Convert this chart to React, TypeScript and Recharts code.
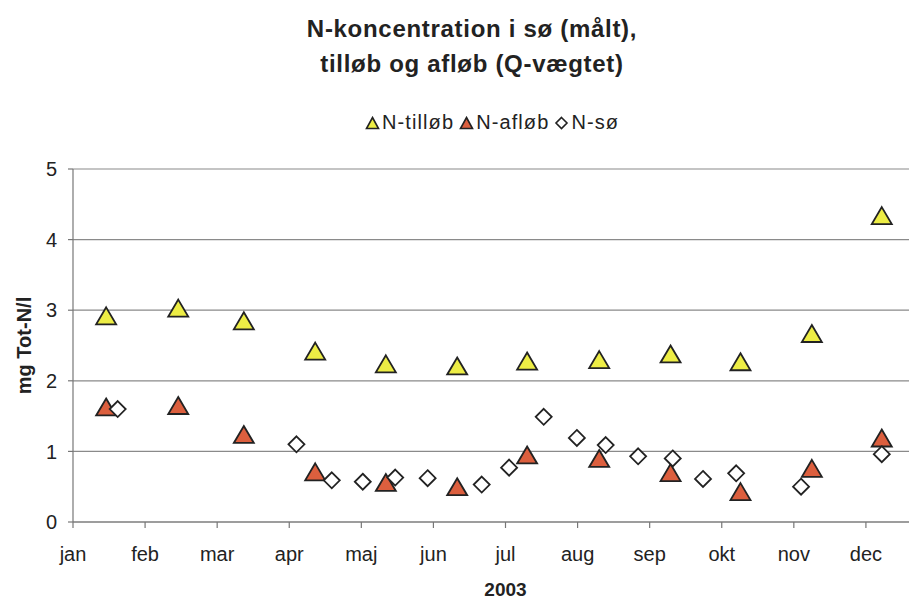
import React from 'react';
import { ScatterChart, Scatter, XAxis, YAxis, CartesianGrid } from 'recharts';

const months = ['jan', 'feb', 'mar', 'apr', 'maj', 'jun', 'jul', 'aug', 'sep', 'okt', 'nov', 'dec'];
const monthTicks = [0, 1, 2, 3, 4, 5, 6, 7, 8, 9, 10, 11];
const yTicks = [0, 1, 2, 3, 4, 5];

// sample dates as month fractions (0 = 1 jan)
const flowDates = [0.46, 1.46, 2.37, 3.36, 4.34, 5.33, 6.3, 7.3, 8.29, 9.26, 10.25, 11.22];
const nInflow = [2.92, 3.03, 2.85, 2.42, 2.24, 2.21, 2.28, 2.3, 2.38, 2.27, 2.67, 4.34];
const nOutflow = [1.63, 1.65, 1.24, 0.71, 0.56, 0.5, 0.95, 0.9, 0.7, 0.43, 0.76, 1.19];

const lakeDates = [0.62, 3.1, 3.59, 4.02, 4.47, 4.92, 5.67, 6.05, 6.53, 6.99, 7.39, 7.84, 8.32, 8.74, 9.2, 10.1, 11.22];
const nLake = [1.6, 1.1, 0.59, 0.57, 0.63, 0.62, 0.53, 0.77, 1.49, 1.19, 1.09, 0.93, 0.9, 0.61, 0.69, 0.5, 0.96];

const YELLOW = '#eded45';
const RED = '#dc5f3e';
const EDGE = '#222';
const FONT = '"Liberation Sans", Arial, sans-serif';

const toPoints = (xs: number[], ys: number[]) => xs.map((x, i) => ({ x, y: ys[i] }));

const triangle = (fill: string) => (props: any) => {
  const { cx, cy } = props;
  const pts = `${cx},${cy - 8.5} ${cx + 10},${cy + 8.5} ${cx - 10},${cy + 8.5}`;
  return <polygon points={pts} fill={fill} stroke={EDGE} strokeWidth={1.8} />;
};

const diamond = (props: any) => {
  const { cx, cy } = props;
  const pts = `${cx},${cy - 8} ${cx + 8},${cy} ${cx},${cy + 8} ${cx - 8},${cy}`;
  return <polygon points={pts} fill="#fff" stroke={EDGE} strokeWidth={1.8} />;
};

const LegendIcon = ({ kind, fill }: { kind: string; fill: string }) => (
  <svg width={15} height={14} style={{ marginRight: 2 }}>
    {kind === 'tri' ? (
      <polygon points="7.5,1.5 13.5,12.5 1.5,12.5" fill={fill} stroke={EDGE} strokeWidth={1.6} />
    ) : (
      <polygon points="7.5,1.5 13,7 7.5,12.5 2,7" fill="#fff" stroke={EDGE} strokeWidth={1.6} />
    )}
  </svg>
);

const ChartLegend = () => (
  <div
    style={{
      position: 'absolute', left: 365, top: 111, display: 'flex', alignItems: 'center',
      fontFamily: FONT, fontSize: 20, letterSpacing: 1.1, color: '#222', whiteSpace: 'nowrap',
    }}
  >
    <LegendIcon kind="tri" fill={YELLOW} />
    <span style={{ marginRight: 5 }}>N-tilløb</span>
    <LegendIcon kind="tri" fill={RED} />
    <span style={{ marginRight: 5 }}>N-afløb</span>
    <LegendIcon kind="dia" fill="#fff" />
    <span>N-sø</span>
  </div>
);

export default function App() {
  return (
    <div style={{ position: 'absolute', left: 0, top: 0, width: 909, height: 599, overflow: 'hidden', background: '#fff' }}>
      <div
        style={{
          position: 'absolute', left: 222, top: 11, width: 500, textAlign: 'center',
          fontFamily: FONT, fontWeight: 'bold', fontSize: 24, letterSpacing: 0.7, lineHeight: '35px', color: '#222',
        }}
      >
        N-koncentration i sø (målt),<br />tilløb og afløb (Q-vægtet)
      </div>
      <ChartLegend />
      <ScatterChart width={945} height={599} margin={{ top: 169, right: 7, bottom: 47, left: 0 }}>
        <CartesianGrid horizontal vertical={false} stroke="#8a8a8a" strokeWidth={1.2} />
        <XAxis
          type="number"
          dataKey="x"
          domain={[0, 12]}
          ticks={monthTicks}
          tickFormatter={(v: number) => months[v]}
          height={30}
          tickSize={6}
          tickMargin={19}
          axisLine={{ stroke: '#777', strokeWidth: 1.2 }}
          tickLine={{ stroke: '#777', strokeWidth: 1.2 }}
          tick={{ fill: '#222', fontSize: 20, fontFamily: FONT }}
          label={{ value: '2003', position: 'bottom', offset: 31, fill: '#222', fontSize: 19, fontWeight: 'bold', fontFamily: FONT }}
        />
        <YAxis
          type="number"
          dataKey="y"
          domain={[0, 5]}
          ticks={yTicks}
          width={73}
          tickSize={5}
          tickMargin={11}
          axisLine={{ stroke: '#777', strokeWidth: 1.2 }}
          tickLine={{ stroke: '#777', strokeWidth: 1.2 }}
          tick={{ fill: '#222', fontSize: 20, fontFamily: FONT }}
          label={{
            content: ({ viewBox }: any) => {
              const lx = viewBox.x + 24;
              const ly = viewBox.y + viewBox.height / 2;
              return (
                <text x={lx} y={ly} transform={`rotate(-90 ${lx} ${ly})`} textAnchor="middle" dominantBaseline="central"
                  fill="#222" fontSize={20} fontWeight="bold" fontFamily={FONT}>
                  mg Tot-N/l
                </text>
              );
            },
          }}
        />
        <Scatter name="N-tilløb" data={toPoints(flowDates, nInflow)} shape={triangle(YELLOW)} isAnimationActive={false} />
        <Scatter name="N-afløb" data={toPoints(flowDates, nOutflow)} shape={triangle(RED)} isAnimationActive={false} />
        <Scatter name="N-sø" data={toPoints(lakeDates, nLake)} shape={diamond} isAnimationActive={false} />
      </ScatterChart>
    </div>
  );
}
